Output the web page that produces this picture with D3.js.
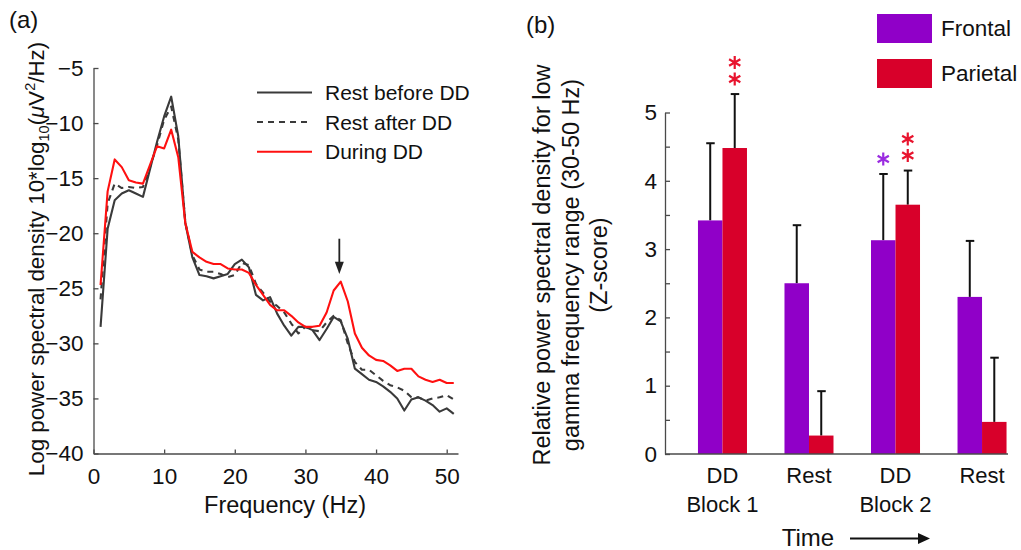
<!DOCTYPE html>
<html><head><meta charset="utf-8">
<script src="https://cdn.jsdelivr.net/npm/d3@7"></script>
<style>
body{margin:0;background:#fff}
svg{display:block}
text{font-family:"Liberation Sans",Arial,Helvetica,sans-serif;fill:#111}
</style>
</head><body>
<svg id="c" width="1021" height="550"></svg>
<script>
// ---------- panel (a) data ----------
const freqHz = [1,2,3,4,5,6,7,8,9,10,11,12,13,14,15,16,17,18,19,20,21,22,23,24,25,26,27,28,29,30,31,32,33,34,35,36,37,38,39,40,41,42,43,44,45,46,47,48,49,50,51];
const restBefore = [-28.5,-19.6,-17.0,-16.4,-16.1,-16.4,-16.7,-14.2,-11.7,-9.4,-7.6,-11.2,-19.1,-22.2,-23.8,-23.9,-24.1,-23.9,-23.7,-22.8,-22.4,-23.1,-25.6,-26.1,-25.8,-27.3,-28.4,-29.3,-28.5,-28.5,-28.8,-29.7,-28.7,-27.6,-28.0,-29.6,-32.3,-32.8,-33.3,-33.5,-33.9,-34.4,-35.0,-36.1,-35.1,-34.9,-35.2,-35.6,-36.2,-35.9,-36.4];
const restAfter = [-26.0,-17.3,-15.5,-15.9,-15.8,-15.9,-15.8,-14.0,-12.0,-9.7,-8.5,-11.5,-19.0,-22.0,-23.3,-23.5,-23.5,-23.7,-24.0,-23.8,-22.7,-22.9,-24.6,-25.4,-26.2,-26.6,-27.2,-28.2,-29.1,-28.5,-28.8,-28.9,-28.1,-27.5,-27.9,-30.0,-31.7,-32.4,-32.4,-32.9,-33.4,-33.8,-34.0,-34.3,-34.9,-34.9,-35.2,-35.0,-34.9,-34.7,-35.1];
const duringDD = [-24.7,-16.2,-13.3,-14.0,-15.2,-15.4,-15.5,-13.8,-12.1,-12.3,-10.6,-13.1,-19.1,-21.7,-22.2,-22.6,-22.8,-22.8,-23.2,-23.3,-23.3,-23.6,-24.7,-25.6,-26.5,-27.0,-27.0,-27.5,-28.1,-28.5,-28.5,-28.4,-27.2,-25.2,-24.4,-26.2,-29.1,-30.4,-31.1,-31.5,-31.6,-32.0,-32.5,-32.3,-32.3,-33.0,-33.3,-33.5,-33.3,-33.6,-33.6];
const seriesNames = ["Rest before DD","Rest after DD","During DD"];
const freqTicks = [0,10,20,30,40,50];
const psdTicks = [-5,-10,-15,-20,-25,-30,-35,-40];
const arrowFreq = 34.8;

// ---------- panel (b) data ----------
const timeCats = ["DD|Block 1","Rest","DD|Block 2","Rest "];
const regions = ["Frontal","Parietal"];
const frontalMean = [3.42,2.50,3.13,2.30];
const parietalMean = [4.48,0.27,3.65,0.47];
const frontalSE = [1.13,0.85,0.97,0.82];
const parietalSE = [0.79,0.65,0.50,0.94];
const frontalStars = [0,0,1,0];
const parietalStars = [2,0,2,0];
const zTicks = [0,0.5,1,1.5,2,2.5,3,3.5,4,4.5,5];

const svg = d3.select("#c");
const FT = 22.5;   // tick labels
const FL = 21;     // legend (a)
const FA = 23.5;   // axis titles
const axisCol = "#4a4a4a";
const purple = "#9000c8", crimson = "#d8002a";

// ================= Panel (a) =================
const xA = d3.scaleLinear().domain([0,51.6]).range([93.5,458]);
const yA = d3.scaleLinear().domain([-40,-5]).range([453.5,68]);

const gxA = svg.append("g").attr("transform","translate(0,453.5)")
  .call(d3.axisBottom(xA).tickValues(freqTicks).tickSize(-4).tickSizeOuter(0).tickPadding(9));
const gyA = svg.append("g").attr("transform","translate(93.5,0)")
  .call(d3.axisLeft(yA).tickValues(psdTicks).tickSize(-5).tickSizeOuter(0).tickPadding(10));
[gxA,gyA].forEach(g=>{
  g.select(".domain").attr("stroke",axisCol).attr("stroke-width",1.3);
  g.selectAll(".tick line").attr("stroke",axisCol).attr("stroke-width",1.3);
  g.selectAll(".tick text").attr("font-size",FT).attr("fill","#111")
   .attr("font-family","Liberation Sans,Arial,sans-serif");
});
gxA.selectAll(".tick text").attr("dy","0.95em");

const lineA = vals => d3.line().x((d,i)=>xA(freqHz[i])).y(d=>yA(d))(vals);
const styles = [
  {vals:restBefore, color:"#3a3a3a", dash:null},
  {vals:restAfter, color:"#3a3a3a", dash:"6,5"},
  {vals:duringDD, color:"#ff1010", dash:null}
];
styles.forEach(s=>{
  svg.append("path").attr("d",lineA(s.vals)).attr("fill","none")
    .attr("stroke",s.color).attr("stroke-width",2.1)
    .attr("stroke-linejoin","round")
    .attr("stroke-dasharray",s.dash);
});

// arrow
const ax = xA(arrowFreq);
svg.append("line").attr("x1",ax).attr("x2",ax).attr("y1",yA(-20.5)).attr("y2",yA(-23.2))
  .attr("stroke","#222").attr("stroke-width",1.8);
svg.append("path").attr("d",`M${ax-4.5},${yA(-22.6)} L${ax+4.5},${yA(-22.6)} L${ax},${yA(-23.7)} Z`).attr("fill","#222");

// legend (a)
styles.forEach((s,i)=>{
  const yy = 92.5 + i*29.6;
  svg.append("line").attr("x1",257).attr("x2",312).attr("y1",yy).attr("y2",yy)
    .attr("stroke",s.color).attr("stroke-width",2).attr("stroke-dasharray",s.dash);
  svg.append("text").attr("x",325).attr("y",yy+7.5).attr("font-size",FL).text(seriesNames[i]);
});

// labels (a)
svg.append("text").attr("x",9).attr("y",28).attr("font-size",24).text("(a)");
svg.append("text").attr("x",285).attr("y",513).attr("text-anchor","middle").attr("font-size",FA).text("Frequency (Hz)");
const yl = svg.append("text").attr("transform","translate(44,259) rotate(-90)")
  .attr("text-anchor","middle").attr("font-size",22.3);
yl.append("tspan").text("Log power spectral density 10*log");
yl.append("tspan").attr("font-size",14.5).attr("dy",5).text("10");
yl.append("tspan").attr("dy",-5).text("(");
yl.append("tspan").attr("font-style","italic").text("\u03bc");
yl.append("tspan").text("V");
yl.append("tspan").attr("font-size",14.5).attr("dy",-9).text("2");
yl.append("tspan").attr("dy",9).text("/Hz)");

// ================= Panel (b) =================
const xB = d3.scaleBand().domain(timeCats).range([665,1039.5]).paddingInner(0.4335).paddingOuter(0.381);
const xSub = d3.scaleBand().domain(regions).range([0,xB.bandwidth()]);
const yB = d3.scaleLinear().domain([0,5]).range([454,112.5]);

const gyB = svg.append("g").attr("transform","translate(665,0)")
  .call(d3.axisLeft(yB).tickValues(zTicks).tickSize(-5).tickSizeOuter(0).tickPadding(8)
    .tickFormat(d=>Number.isInteger(d)?d:""));
gyB.select(".domain").attr("stroke",axisCol).attr("stroke-width",1.3);
gyB.selectAll(".tick line").attr("stroke",axisCol).attr("stroke-width",1.3);
gyB.selectAll(".tick text").attr("font-size",FT).attr("fill","#111").attr("font-family","Liberation Sans,Arial,sans-serif");

const barData = [];
timeCats.forEach((c,i)=>{
  barData.push({cat:c, reg:"Frontal", mean:frontalMean[i], se:frontalSE[i], stars:frontalStars[i], color:purple, starColor:"#9a2be0"});
  barData.push({cat:c, reg:"Parietal", mean:parietalMean[i], se:parietalSE[i], stars:parietalStars[i], color:crimson, starColor:"#e8142e"});
});

// error bars (behind bars)
barData.forEach(d=>{
  const cx = xB(d.cat)+xSub(d.reg)+xSub.bandwidth()/2;
  const top = yB(d.mean+d.se);
  svg.append("line").attr("x1",cx).attr("x2",cx).attr("y1",yB(d.mean)).attr("y2",top)
    .attr("stroke","#111").attr("stroke-width",2);
  svg.append("line").attr("x1",cx-4).attr("x2",cx+4.5).attr("y1",top).attr("y2",top)
    .attr("stroke","#111").attr("stroke-width",2);
  for(let k=0;k<d.stars;k++){
    const sy = top-15-k*16.5, r=6.5;
    const p = d3.path();
    [90,30,150].forEach(a=>{
      const rad=a*Math.PI/180;
      p.moveTo(cx-r*Math.cos(rad), sy-r*Math.sin(rad));
      p.lineTo(cx+r*Math.cos(rad), sy+r*Math.sin(rad));
    });
    svg.append("path").attr("d",p.toString()).attr("stroke",d.starColor).attr("stroke-width",2.2).attr("fill","none");
  }
});
svg.selectAll("rect.bar").data(barData).join("rect").attr("class","bar")
  .attr("x",d=>xB(d.cat)+xSub(d.reg)).attr("width",xSub.bandwidth())
  .attr("y",d=>yB(d.mean)).attr("height",d=>yB(0)-yB(d.mean))
  .attr("fill",d=>d.color);

// x axis line (b)
svg.append("line").attr("x1",665).attr("x2",1008).attr("y1",454).attr("y2",454)
  .attr("stroke",axisCol).attr("stroke-width",1.3);

// category labels
timeCats.forEach(c=>{
  const cx = xB(c)+xB.bandwidth()/2;
  c.trim().split("|").forEach((t,j)=>{
    svg.append("text").attr("x",cx).attr("y",483+j*29).attr("text-anchor","middle").attr("font-size",22).text(t);
  });
});

// Time arrow
svg.append("text").attr("x",808).attr("y",546).attr("text-anchor","middle").attr("font-size",24).text("Time");
svg.append("line").attr("x1",850).attr("x2",920).attr("y1",538.5).attr("y2",538.5).attr("stroke","#111").attr("stroke-width",2);
svg.append("path").attr("d","M918,533 L930,538.5 L918,544 Z").attr("fill","#111");

// legend (b)
regions.forEach((r,i)=>{
  svg.append("rect").attr("x",877).attr("y",14+i*45).attr("width",55).attr("height",29)
    .attr("fill",i===0?purple:crimson);
  svg.append("text").attr("x",941).attr("y",36+i*45).attr("font-size",22.5).text(r);
});

// labels (b)
svg.append("text").attr("x",526).attr("y",33).attr("font-size",24).text("(b)");
const ylB = ["Relative power spectral density for low","gamma frequency range (30-50 Hz)","(Z-score)"];
ylB.forEach((t,i)=>{
  svg.append("text").attr("transform",`translate(${550+i*28.5},265) rotate(-90)`)
    .attr("text-anchor","middle").attr("font-size",FA).text(t);
});
</script>
</body></html>
